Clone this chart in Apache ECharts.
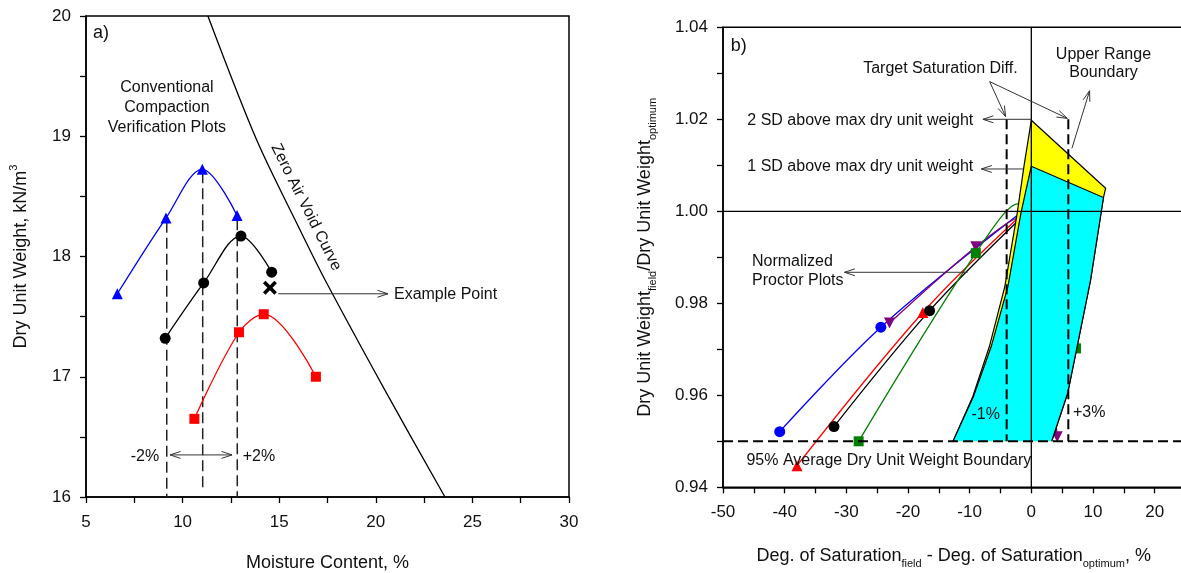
<!DOCTYPE html>
<html>
<head>
<meta charset="utf-8">
<title>Compaction verification</title>
<script src="https://cdn.jsdelivr.net/npm/echarts@6.0.0/dist/echarts.min.js"></script>
<style>
  html, body { margin: 0; padding: 0; background: #fff; }
  #chart { width: 1181px; height: 573px; }
</style>
</head>
<body>
<div id="chart"></div>
<script>
// ---------- Panel a): conventional compaction plots ----------
const blueW = [6.62, 9.14, 11.02, 12.82];
const blueG = [17.69, 18.32, 18.725, 18.34];
const blackW = [9.10, 11.09, 13.02, 14.61];
const blackG = [17.32, 17.78, 18.17, 17.87];
const redW = [10.61, 12.92, 14.2, 16.9];
const redG = [16.65, 17.37, 17.52, 17.0];
const exampleW = [14.52];
const exampleG = [17.74];
// zero air void curve
const zavW = [11.31, 13.83, 16.08, 17.39, 20.5, 23.58];
const zavG = [20, 18.97, 18.22, 17.8, 16.88, 16];
// verification lines (optimum and +/-2 %)
const verifW = [9.18, 11.04, 12.83];
const verifTop = [18.29, 18.70, 18.31];
const verifBottom = [16.0, 16.08, 16.0];

// ---------- Panel b): normalized Proctor plots ----------
const blueDS = [-40.8, -24.4, -2.4];
const blueR = [0.9521, 0.9748, 0.9990];
const purpleDS = [-23.0, -9.0, -2.2, 4.2];
const purpleR = [0.9757, 0.9923, 0.9985, 0.951];
const redDS = [-38.0, -17.6, -2.2];
const redR = [0.9447, 0.978, 0.9985];
const blackDS = [-32.0, -16.5, -2.1];
const blackR = [0.9532, 0.9784, 0.998];
const greenDS = [-28.0, -9.0, -2.2, 7.25];
const greenR = [0.950, 0.9909, 1.0016, 0.9702];
// the optimum point of each normalized curve sits under the 2 SD strip
const optimumIndex = 2;

// acceptance zone: 2 SD boundary (yellow) and 1 SD boundary (cyan)
const sd2LeftDS = [-12.7, -9.5, -6.8, -4.3, -2.3, -1.2, 0];
const sd2LeftR = [0.95, 0.9597, 0.9706, 0.9836, 0.9995, 1.0097, 1.0198];
const sd1LeftDS = [-12.7, -9.4, -6.5, -3.8, -1.7, -0.8, 0];
const sd1LeftR = [0.95, 0.9597, 0.9706, 0.9836, 0.9995, 1.005, 1.0098];
const sd2TopEndDS = [12.05];
const sd2TopEndR = [1.005];
const rightEdgeDS = [11.7, 9.6, 5.9, 3.3];
const rightEdgeR = [1.003, 0.985, 0.9605, 0.95];

// reference levels
const optimumRatio = 1.0;
const minRatio = 0.95;
const targetDiffDS = [-4, 6];
const targetTopR = 1.02;

// axis ranges
const axA = { xMin: 5, xMax: 30, xStep: 5, yMin: 16, yMax: 20, yStep: 1 };
const axB = { xMin: -50, xMax: 30, xStep: 10, yMin: 0.94, yMax: 1.04, yStep: 0.02 };

const zip = (xs, ys) => xs.map((x, i) => [x, ys[i]]);
const FONT = '"Liberation Sans", Arial, Helvetica, sans-serif';

function axis(opt) {
  return Object.assign({
    type: 'value',
    axisLine: { show: true, onZero: false, lineStyle: { color: '#000', width: 1.5 } },
    axisTick: { show: true, inside: false, length: 6, lineStyle: { color: '#000', width: 1.3 } },
    minorTick: { show: true, splitNumber: 2, length: 6, lineStyle: { color: '#000', width: 1.3 } },
    splitLine: { show: false },
    minorSplitLine: { show: false },
    nameLocation: 'middle',
    nameTextStyle: {
      color: '#111', fontSize: 18, fontFamily: FONT, lineHeight: 26,
      rich: {
        sub: { fontSize: 11, lineHeight: 11, verticalAlign: 'bottom', fontFamily: FONT, color: '#111' },
        sup: { fontSize: 11, lineHeight: 11, verticalAlign: 'top', fontFamily: FONT, color: '#111' }
      }
    }
  }, opt);
}

function arrowHead(from, tip) {
  const a = Math.atan2(tip[1] - from[1], tip[0] - from[0]);
  const L = 11, w = 0.32;
  return {
    type: 'polyline',
    shape: { points: [
      [tip[0] - L * Math.cos(a - w), tip[1] - L * Math.sin(a - w)],
      [tip[0], tip[1]],
      [tip[0] - L * Math.cos(a + w), tip[1] - L * Math.sin(a + w)]
    ] },
    style: { stroke: '#333', fill: null, lineWidth: 1 }
  };
}

// arrows given as [x1, y1, x2, y2, headAtStart, headAtEnd]
function arrowSeries(xi, yi, arrows) {
  return {
    type: 'custom', xAxisIndex: xi, yAxisIndex: yi, z: 9, silent: true,
    dimensions: ['x1', 'y1', 'x2', 'y2', 'hs', 'he'],
    encode: { x: 0, y: 1 },
    data: arrows,
    renderItem: (params, api) => {
      const p1 = api.coord([api.value(0), api.value(1)]);
      const p2 = api.coord([api.value(2), api.value(3)]);
      const children = [{ type: 'line', shape: { x1: p1[0], y1: p1[1], x2: p2[0], y2: p2[1] },
        style: { stroke: '#333', lineWidth: 1 } }];
      if (api.value(4)) children.push(arrowHead(p2, p1));
      if (api.value(5)) children.push(arrowHead(p1, p2));
      return { type: 'group', children };
    }
  };
}

// straight segments [x1, y1, x2, y2]
function segmentSeries(xi, yi, segs, style, z) {
  return {
    type: 'custom', xAxisIndex: xi, yAxisIndex: yi, z: z, silent: true,
    dimensions: ['x1', 'y1', 'x2', 'y2'],
    encode: { x: 0, y: 1 },
    data: segs,
    renderItem: (params, api) => {
      const p1 = api.coord([api.value(0), api.value(1)]);
      const p2 = api.coord([api.value(2), api.value(3)]);
      return { type: 'line', shape: { x1: p1[0], y1: p1[1], x2: p2[0], y2: p2[1] }, style: style };
    }
  };
}

function noteSeries(xi, yi, notes) {
  return {
    type: 'custom', xAxisIndex: xi, yAxisIndex: yi, z: 11, silent: true,
    data: notes.map(n => [n.x, n.y]),
    renderItem: (params, api) => {
      const n = notes[params.dataIndex];
      const p = api.coord([api.value(0), api.value(1)]);
      return {
        type: 'text', x: p[0], y: p[1], rotation: n.rot || 0,
        style: {
          text: n.text, fill: '#111', fontSize: n.size || 16, fontFamily: FONT,
          align: n.align || 'center', verticalAlign: 'middle', lineHeight: n.lh || 20
        }
      };
    }
  };
}

function polygonSeries(xi, yi, pts, fill, outline, z) {
  return {
    type: 'custom', xAxisIndex: xi, yAxisIndex: yi, z: z, silent: true,
    data: [0],
    renderItem: (params, api) => {
      const px = pts.map(p => api.coord(p));
      const ol = outline.map(p => api.coord(p));
      return {
        type: 'group',
        children: [
          { type: 'polygon', shape: { points: px }, style: { fill: fill, stroke: null } },
          { type: 'polyline', shape: { points: ol }, style: { stroke: '#000', lineWidth: 1.2, fill: null } }
        ]
      };
    }
  };
}

function curve(xi, yi, data, color, symbol, size, hideIndex) {
  const items = data.map((p, i) => (i === hideIndex ? { value: p, symbol: 'none' } : p));
  return {
    type: 'line', xAxisIndex: xi, yAxisIndex: yi, z: 3,
    data: items, smooth: 0.35,
    symbol: symbol, symbolSize: size,
    showSymbol: true,
    lineStyle: { color: color, width: 1.3 },
    itemStyle: { color: color, borderWidth: 0, opacity: 1 },
    emphasis: { disabled: true }
  };
}

// zone outlines
const sd2Left = zip(sd2LeftDS, sd2LeftR);
const sd1Left = zip(sd1LeftDS, sd1LeftR);
const sd2TopEnd = zip(sd2TopEndDS, sd2TopEndR);
const rightEdge = zip(rightEdgeDS, rightEdgeR);
const yellowZone = sd2Left.concat(sd2TopEnd, rightEdge);
const cyanZone = sd1Left.concat(rightEdge);

const notesA = [
  { text: 'a)', x: 5.36, y: 19.86, align: 'left', size: 18 },
  { text: 'Conventional\nCompaction\nVerification Plots', x: 9.19, y: 19.235, lh: 20 },
  { text: 'Zero Air Void Curve', x: 16.39, y: 18.41, rot: -1.107 },
  { text: 'Example Point', x: 20.94, y: 17.685, align: 'left' },
  { text: '-2%', x: 8.05, y: 16.34 },
  { text: '+2%', x: 13.95, y: 16.34 }
];
const arrowsA = [
  [14.95, 17.69, 20.63, 17.69, 0, 1],
  [9.35, 16.35, 12.56, 16.35, 1, 1]
];

const notesB = [
  { text: 'b)', x: -48.76, y: 1.0359, align: 'left', size: 18 },
  { text: 'Target Saturation Diff.', x: -14.74, y: 1.0311 },
  { text: 'Upper Range\nBoundary', x: 11.7, y: 1.0321, lh: 18 },
  { text: '2 SD above max dry unit weight', x: -46.05, y: 1.0198, align: 'left' },
  { text: '1 SD above max dry unit weight', x: -46.05, y: 1.0097, align: 'left' },
  { text: 'Normalized\nProctor Plots', x: -45.3, y: 0.9870, align: 'left', lh: 19 },
  { text: '-1%', x: -7.4, y: 0.9557 },
  { text: '+3%', x: 9.39, y: 0.9562 },
  { text: '95% Average Dry Unit Weight Boundary', x: -46.2, y: 0.94572, align: 'left' }
];
const arrowsB = [
  [-6.76, 1.0282, -4.17, 1.0206, 0, 1],
  [-6.76, 1.0282, 5.84, 1.0202, 0, 1],
  [6.59, 1.0137, 9.45, 1.0262, 0, 1],
  [0, 1.02, -7.85, 1.02, 0, 1],
  [-1.25, 1.0092, -8.1, 1.0092, 0, 1],
  [-10.34, 0.98674, -30.3, 0.98674, 0, 1]
];

const downTri = 'path://M0,0 L10,0 L5,9 Z';
const boldX = 'path://M0,2.6 L2.6,0 L7,4.4 L11.4,0 L14,2.6 L9.6,7 L14,11.4 L11.4,14 L7,9.6 L2.6,14 L0,11.4 L4.4,7 Z';

const dashA = { stroke: '#222', lineWidth: 1.5, lineDash: [11, 5] };
const dashB = { stroke: '#000', lineWidth: 2, lineDash: [10, 5] };
const solidB = { stroke: '#000', lineWidth: 1.3 };

const option = {
  animation: false,
  backgroundColor: '#fff',
  textStyle: { fontFamily: FONT },
  grid: [
    { left: 86, top: 16, width: 483, height: 481, show: true, borderColor: '#000', borderWidth: 1.5,
      backgroundColor: 'transparent', containLabel: false, outerBoundsMode: 'none' },
    { left: 723, top: 27.3, width: 493.3, height: 460, show: true, borderColor: '#000', borderWidth: 1.5,
      backgroundColor: 'transparent', containLabel: false, outerBoundsMode: 'none' }
  ],
  xAxis: [
    axis({ gridIndex: 0, min: axA.xMin, max: axA.xMax, interval: axA.xStep,
      axisLabel: { color: '#111', fontSize: 17, fontFamily: FONT, margin: 17 },
      name: 'Moisture Content, %', nameGap: 53 }),
    axis({ gridIndex: 1, min: axB.xMin, max: axB.xMax, interval: axB.xStep,
      axisLabel: { color: '#111', fontSize: 17, fontFamily: FONT, margin: 17 },
      name: 'Deg. of Saturation{sub|field} - Deg. of Saturation{sub|optimum}, %', nameGap: 56,
      nameTextStyle: {
        color: '#111', fontSize: 18, fontFamily: FONT, lineHeight: 26, padding: [0, 32, 0, 0],
        rich: { sub: { fontSize: 11, lineHeight: 11, verticalAlign: 'bottom', fontFamily: FONT, color: '#111' } }
      } })
  ],
  yAxis: [
    axis({ gridIndex: 0, min: axA.yMin, max: axA.yMax, interval: axA.yStep,
      axisLabel: { color: '#111', fontSize: 17, fontFamily: FONT, margin: 15 },
      name: 'Dry Unit Weight, kN/m{sup|3}', nameRotate: 90, nameGap: 52 }),
    axis({ gridIndex: 1, min: axB.yMin, max: axB.yMax, interval: axB.yStep,
      axisLabel: { color: '#111', fontSize: 17, fontFamily: FONT, margin: 15,
        formatter: v => v.toFixed(2) },
      name: 'Dry Unit Weight{sub|field}/Dry Unit Weight{sub|optimum}', nameRotate: 90, nameGap: 65 })
  ],
  series: [
    // panel a)
    { type: 'line', xAxisIndex: 0, yAxisIndex: 0, z: 2, data: zip(zavW, zavG), smooth: 0.3,
      symbol: 'none', lineStyle: { color: '#000', width: 1.3 }, emphasis: { disabled: true } },
    segmentSeries(0, 0, verifW.map((w, i) => [w, verifTop[i], w, verifBottom[i]]), dashA, 2),
    curve(0, 0, zip(blueW, blueG), '#0000ff', 'triangle', 11, -1),
    curve(0, 0, zip(blackW, blackG), '#000000', 'circle', 11, -1),
    curve(0, 0, zip(redW, redG), '#ff0000', 'rect', 10, -1),
    { type: 'scatter', xAxisIndex: 0, yAxisIndex: 0, z: 5, data: zip(exampleW, exampleG),
      symbol: boldX, symbolSize: 14, itemStyle: { color: '#000', opacity: 1 }, emphasis: { disabled: true } },
    arrowSeries(0, 0, arrowsA),
    noteSeries(0, 0, notesA),

    // panel b)
    curve(1, 1, zip(blueDS, blueR), '#0000ff', 'circle', 11, optimumIndex),
    curve(1, 1, zip(purpleDS, purpleR), '#800080', downTri, 11, optimumIndex),
    curve(1, 1, zip(redDS, redR), '#ff0000', 'triangle', 11, optimumIndex),
    curve(1, 1, zip(blackDS, blackR), '#000000', 'circle', 11, optimumIndex),
    curve(1, 1, zip(greenDS, greenR), '#008000', 'rect', 10, optimumIndex),
    polygonSeries(1, 1, yellowZone, '#ffff00', sd2Left.concat(sd2TopEnd, rightEdge), 6),
    polygonSeries(1, 1, cyanZone, '#00ffff', sd1Left.concat(rightEdge), 7),
    segmentSeries(1, 1, [
      [axB.xMin, optimumRatio, axB.xMax, optimumRatio],
      [0, axB.yMin, 0, axB.yMax]
    ], solidB, 8),
    segmentSeries(1, 1, [
      [axB.xMin, minRatio, axB.xMax, minRatio],
      [targetDiffDS[0], targetTopR, targetDiffDS[0], minRatio],
      [targetDiffDS[1], targetTopR, targetDiffDS[1], minRatio]
    ], dashB, 8),
    arrowSeries(1, 1, arrowsB),
    noteSeries(1, 1, notesB)
  ]
};

const chart = echarts.init(document.getElementById('chart'), null, { renderer: 'canvas' });
chart.setOption(option);
</script>
</body>
</html>
